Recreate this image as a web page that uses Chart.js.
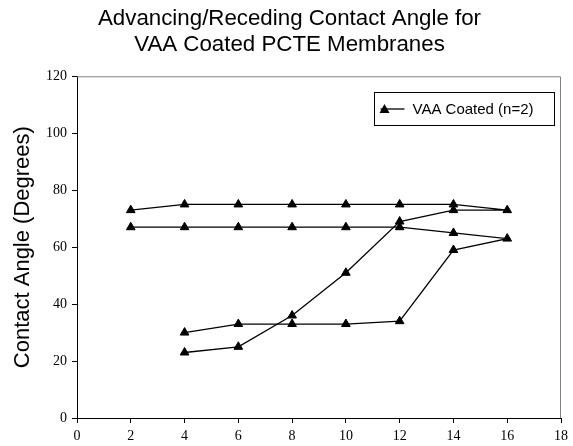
<!DOCTYPE html>
<html lang="en">
<head>
<meta charset="UTF-8">
<title>Advancing/Receding Contact Angle</title>
<script src="https://cdn.jsdelivr.net/npm/chart.js@4.4.1/dist/chart.umd.min.js"></script>
<style>
    html, body { margin: 0; padding: 0; background: #fff; }
    #wrap { width: 573px; height: 446px; }
</style>
</head>
<body>
<div id="wrap"><canvas id="chart" width="573" height="446"></canvas></div>
<script>
    // time steps (advancing 2 -> 16, then receding 16 -> 4)
    const sampleAX = [2, 4, 6, 8, 10, 12, 14, 16, 14, 12, 10, 8, 6, 4];
    const sampleAY = [73, 75, 75, 75, 75, 75, 75, 73, 73, 69, 51, 36, 25, 23];
    const sampleBX = [2, 4, 6, 8, 10, 12, 14, 16, 14, 12, 10, 8, 6, 4];
    const sampleBY = [67, 67, 67, 67, 67, 67, 65, 63, 59, 34, 33, 33, 33, 30];
    const xTicks = [0, 2, 4, 6, 8, 10, 12, 14, 16, 18];
    const yTicks = [0, 20, 40, 60, 80, 100, 120];

    const seriesLabel = 'VAA Coated (n=2)';

    function toPoints(xs, ys)
    {
        return xs.map((x, i) => ({ x: x, y: ys[i] }));
    }

    const serif = "'Times New Roman', 'Liberation Serif', serif";
    const sans = "'Liberation Sans', Arial, sans-serif";

    // box around the plot area (top/right edges)
    const plotBox = {
        id: 'plotBox',
        beforeDatasetsDraw(chart)
        {
            const { ctx, chartArea: a } = chart;
            ctx.save();
            ctx.strokeStyle = '#808080';
            ctx.lineWidth = 1;
            ctx.beginPath();
            ctx.moveTo(a.left, a.top + 0.5);
            ctx.lineTo(a.right - 0.5, a.top + 0.5);
            ctx.lineTo(a.right - 0.5, a.bottom);
            ctx.stroke();
            ctx.restore();
        }
    };

    // legend drawn inside the plot area
    const innerLegend = {
        id: 'innerLegend',
        afterDraw(chart)
        {
            const { ctx } = chart;
            const ds = chart.data.datasets[0];
            const x0 = 374.5, y0 = 92.5, w = 180, h = 33;
            ctx.save();
            ctx.fillStyle = '#fff';
            ctx.fillRect(x0, y0, w, h);
            ctx.strokeStyle = '#000';
            ctx.lineWidth = 1;
            ctx.strokeRect(x0, y0, w, h);
            const my = y0 + h / 2;
            ctx.beginPath();
            ctx.moveTo(x0 + 6, my);
            ctx.lineTo(x0 + 30, my);
            ctx.lineWidth = 1.3;
            ctx.stroke();
            ctx.fillStyle = '#000';
            ctx.beginPath();
            ctx.moveTo(x0 + 10, my - 5);
            ctx.lineTo(x0 + 15, my + 4);
            ctx.lineTo(x0 + 5, my + 4);
            ctx.closePath();
            ctx.fill();
            ctx.font = '15px ' + sans;
            ctx.textBaseline = 'middle';
            ctx.fillText(ds.label, x0 + 38, my + 1);
            ctx.restore();
        }
    };

    const lineStyle = {
        showLine: true,
        borderColor: '#000',
        backgroundColor: '#000',
        borderWidth: 1.3,
        pointStyle: 'triangle',
        pointRadius: 5,
        pointBorderWidth: 1,
        pointBorderColor: '#000',
        pointBackgroundColor: '#000',
        tension: 0
    };

    new Chart(document.getElementById('chart'), {
        type: 'scatter',
        data: {
            datasets: [
                Object.assign({ label: seriesLabel, data: toPoints(sampleAX, sampleAY) }, lineStyle),
                Object.assign({ label: seriesLabel, data: toPoints(sampleBX, sampleBY) }, lineStyle)
            ]
        },
        options: {
            responsive: false,
            animation: false,
            layout: { padding: { left: 14, right: 8, top: 6, bottom: 0 } },
            plugins: {
                legend: { display: false },
                tooltip: { enabled: false },
                title: {
                    display: true,
                    text: ['Advancing/Receding Contact Angle for', 'VAA Coated PCTE Membranes'],
                    color: '#000',
                    font: { family: sans, size: 22.3, weight: 'normal', lineHeight: 1.15 },
                    padding: { top: 0, bottom: 19 }
                }
            },
            scales: {
                x: {
                    type: 'linear',
                    min: 0,
                    max: 18,
                    afterBuildTicks: s => { s.ticks = xTicks.map(v => ({ value: v })); },
                    afterFit: s => { s.height = 28; },
                    grid: { display: true, drawOnChartArea: false, drawTicks: true, tickLength: 5, color: '#000' },
                    border: { display: true, color: '#000', width: 1 },
                    ticks: { color: '#000', font: { family: serif, size: 14 }, padding: 5, maxRotation: 0 }
                },
                y: {
                    type: 'linear',
                    min: 0,
                    max: 120,
                    afterBuildTicks: s => { s.ticks = yTicks.map(v => ({ value: v })); },
                    afterFit: s => { s.width = 63; },
                    grid: { display: true, drawOnChartArea: false, drawTicks: true, tickLength: 5, color: '#000' },
                    border: { display: true, color: '#000', width: 1 },
                    ticks: { color: '#000', font: { family: serif, size: 14 }, padding: 5 },
                    title: {
                        display: true,
                        text: 'Contact Angle (Degrees)',
                        color: '#000',
                        font: { family: sans, size: 22, weight: 'normal', lineHeight: 0.8 },
                        padding: { top: 0, bottom: 0 }
                    }
                }
            }
        },
        plugins: [plotBox, innerLegend]
    });
</script>
</body>
</html>
